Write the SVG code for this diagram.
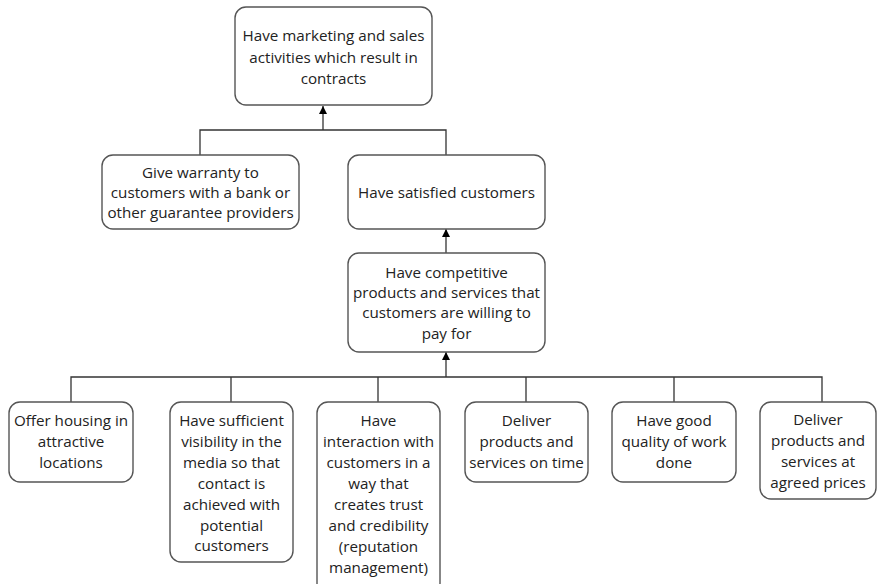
<svg xmlns="http://www.w3.org/2000/svg" width="877" height="584" viewBox="0 0 877 584">
<defs>
<marker id="ah" viewBox="0 0 10 10" refX="10" refY="5" markerWidth="8" markerHeight="8" markerUnits="userSpaceOnUse" orient="auto">
<path d="M0,0 L10,5 L0,10 z" fill="#000"/>
</marker>
<style>
.box{fill:#fff;stroke:#555;stroke-width:1.4}
.t{font-family:"Open Sans","Noto Sans",sans-serif;font-size:15.2px;fill:#222;text-anchor:middle;dominant-baseline:central}
.c{fill:none;stroke:#333;stroke-width:1.3}
</style>
</defs>
<rect width="877" height="584" fill="#fff"/>
<g id="connectors">
<path class="c" d="M200,155 V130 H446 V155"/>
<path class="c" d="M323,130 V106" marker-end="url(#ah)"/>
<path class="c" d="M446,253 V229" marker-end="url(#ah)"/>
<path class="c" d="M446,377 V352" marker-end="url(#ah)"/>
<path class="c" d="M71,402 V377 H822 V402 M231,377 V402 M378,377 V402 M526,377 V402 M674,377 V402"/>
</g>
<g id="n-top">
<rect class="box" x="235" y="7" width="197" height="98" rx="11"/>
<text class="t" x="333.5" y="35">Have marketing and sales</text>
<text class="t" x="333.5" y="56.5">activities which result in</text>
<text class="t" x="333.5" y="78">contracts</text>
</g>
<g id="n-warranty">
<rect class="box" x="102" y="155" width="197" height="74" rx="11"/>
<text class="t" x="200.5" y="171.5">Give warranty to</text>
<text class="t" x="200.5" y="191.5">customers with a bank or</text>
<text class="t" x="200.5" y="211.5">other guarantee providers</text>
</g>
<g id="n-satisfied">
<rect class="box" x="348" y="155" width="197" height="74" rx="11"/>
<text class="t" x="446.5" y="191.5">Have satisfied customers</text>
</g>
<g id="n-competitive">
<rect class="box" x="348" y="253" width="197" height="99" rx="11"/>
<text class="t" x="446.5" y="271.5">Have competitive</text>
<text class="t" x="446.5" y="291.5">products and services that</text>
<text class="t" x="446.5" y="311.5">customers are willing to</text>
<text class="t" x="446.5" y="333">pay for</text>
</g>
<g id="n-housing">
<rect class="box" x="9" y="402" width="124" height="80" rx="11"/>
<text class="t" x="71" y="420">Offer housing in</text>
<text class="t" x="71" y="441">attractive</text>
<text class="t" x="71" y="462">locations</text>
</g>
<g id="n-visibility">
<rect class="box" x="170" y="402" width="123" height="160" rx="11"/>
<text class="t" x="231.5" y="420">Have sufficient</text>
<text class="t" x="231.5" y="441">visibility in the</text>
<text class="t" x="231.5" y="462">media so that</text>
<text class="t" x="231.5" y="483">contact is</text>
<text class="t" x="231.5" y="503.5">achieved with</text>
<text class="t" x="231.5" y="524.5">potential</text>
<text class="t" x="231.5" y="545">customers</text>
</g>
<g id="n-interaction">
<rect class="box" x="317" y="402" width="123" height="192" rx="11"/>
<text class="t" x="378.5" y="420">Have</text>
<text class="t" x="378.5" y="441">interaction with</text>
<text class="t" x="378.5" y="462">customers in a</text>
<text class="t" x="378.5" y="483">way that</text>
<text class="t" x="378.5" y="504">creates trust</text>
<text class="t" x="378.5" y="525">and credibility</text>
<text class="t" x="378.5" y="546">(reputation</text>
<text class="t" x="378.5" y="567">management)</text>
</g>
<g id="n-ontime">
<rect class="box" x="465" y="402" width="123" height="80" rx="11"/>
<text class="t" x="526.5" y="420">Deliver</text>
<text class="t" x="526.5" y="441">products and</text>
<text class="t" x="526.5" y="462">services on time</text>
</g>
<g id="n-quality">
<rect class="box" x="612" y="402" width="124" height="80" rx="11"/>
<text class="t" x="674" y="420">Have good</text>
<text class="t" x="674" y="441">quality of work</text>
<text class="t" x="674" y="462">done</text>
</g>
<g id="n-prices">
<rect class="box" x="760" y="402" width="116" height="97" rx="11"/>
<text class="t" x="818" y="419">Deliver</text>
<text class="t" x="818" y="440">products and</text>
<text class="t" x="818" y="461">services at</text>
<text class="t" x="818" y="482">agreed prices</text>
</g>
</svg>
